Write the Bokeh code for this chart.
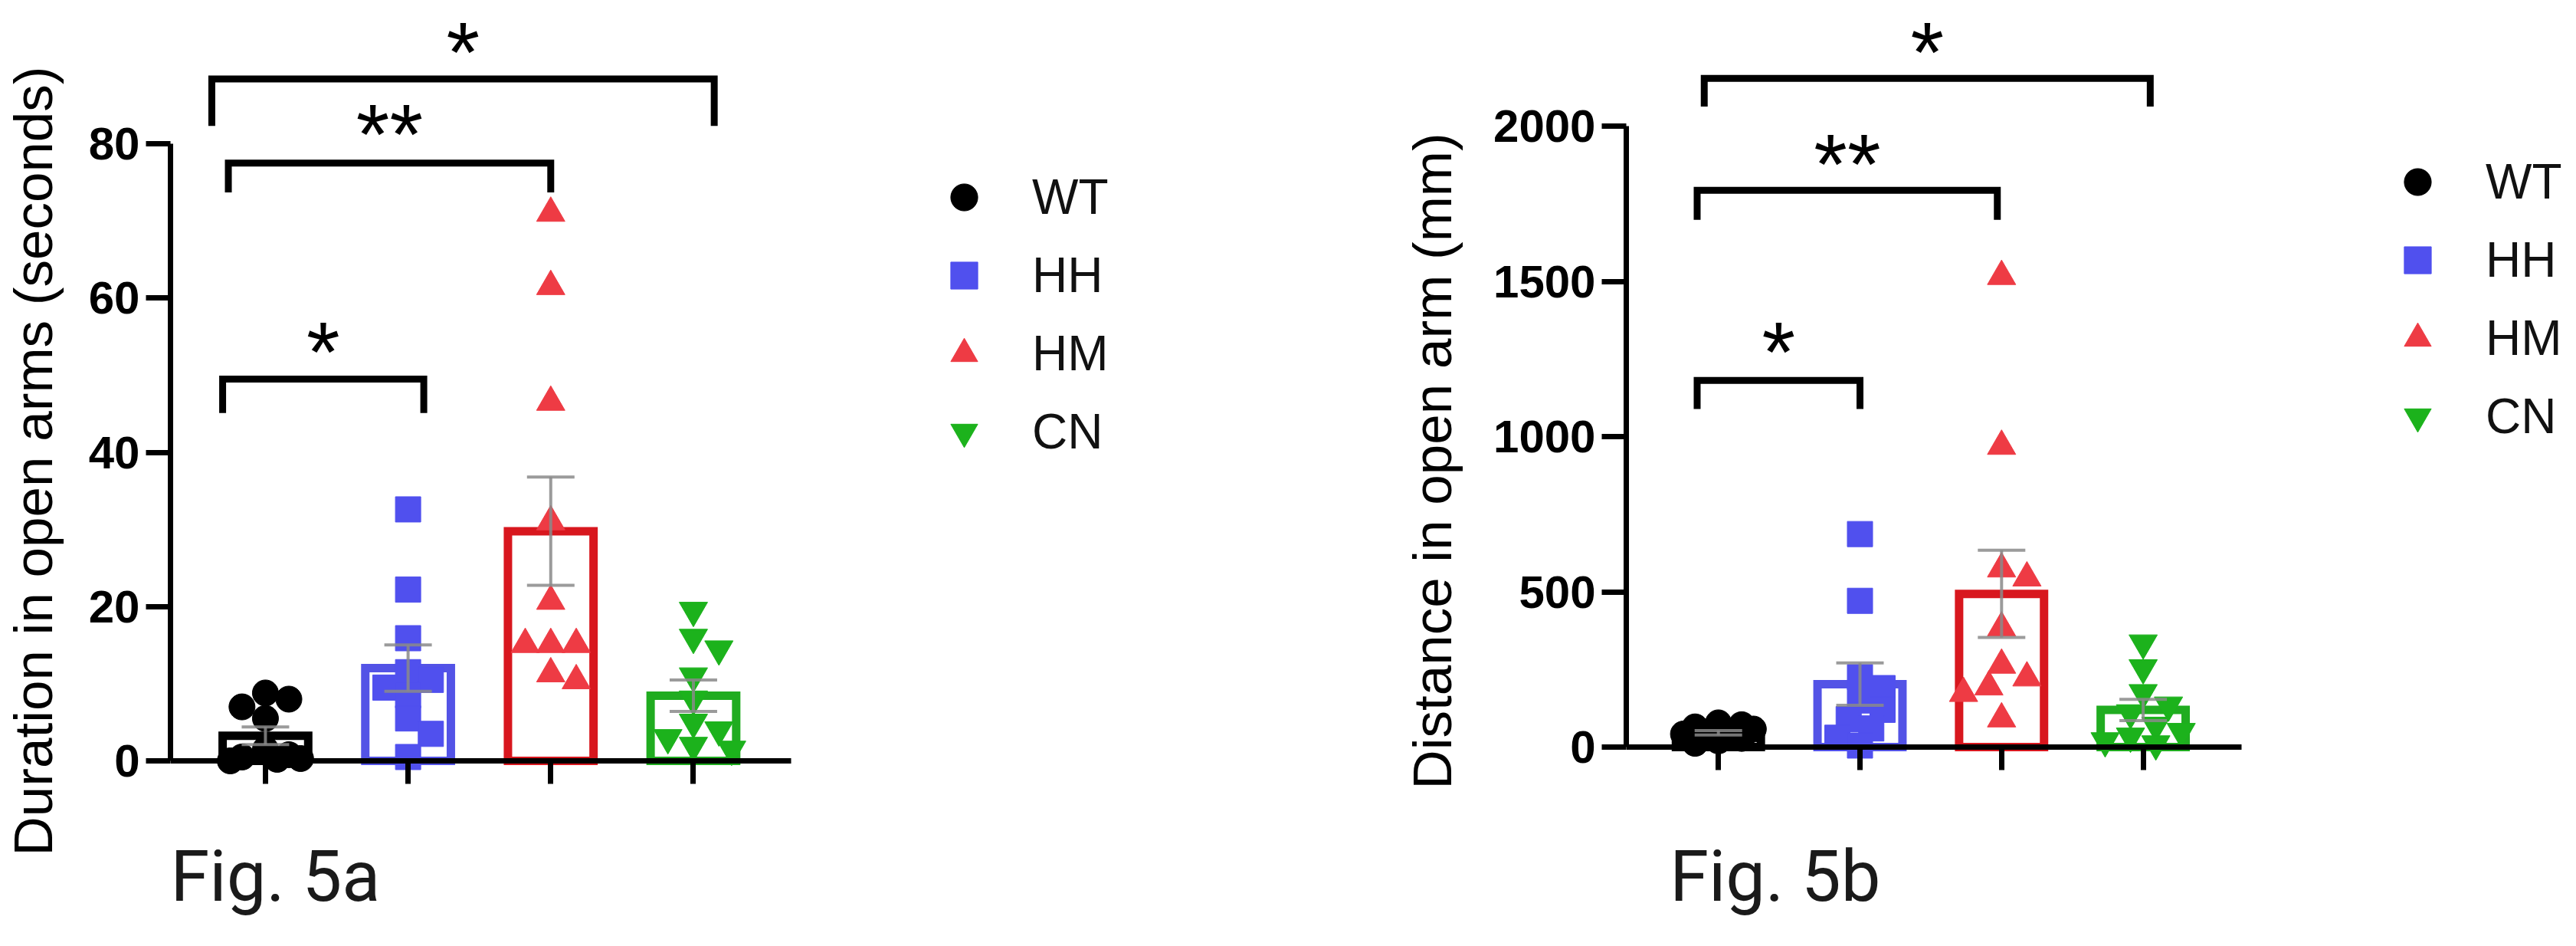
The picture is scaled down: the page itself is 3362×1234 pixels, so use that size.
import math
from bokeh.plotting import figure
from bokeh.models import (Range1d, LinearAxis, FixedTicker, ColumnDataSource,
                          Whisker, TeeHead, Legend, LegendItem)
from bokeh.layouts import row
from bokeh.embed import file_html
from bokeh.resources import INLINE
from bokeh.core.properties import value

# ---------------- data ----------------
groups = ["WT", "HH", "HM", "CN"]

duration_wt = [8.8, 8.0, 7.0, 5.5, 1.5, 0.8, 0.5, 0.3, 0.2, 0.0]
duration_hh = [32.6, 22.2, 15.9, 11.5, 10.5, 9.5, 8.5, 5.5, 3.5, 0.5]
duration_hm = [71.0, 61.5, 46.5, 31.0, 20.7, 15.1, 15.1, 15.1, 11.3, 10.4]
duration_cn = [19.5, 16.0, 14.5, 11.0, 8.0, 5.0, 4.0, 3.0, 2.0, 1.5]

distance_wt = [78, 72, 65, 58, 50, 42, 35, 28, 20, 12]
distance_hh = [686, 471, 225, 190, 150, 120, 90, 60, 30, 5]
distance_hm = [1516, 969, 574, 545, 384, 264, 223, 194, 173, 91]
distance_cn = [335, 255, 175, 135, 110, 70, 50, 35, 20, 10]

duration_ticks = [0, 20, 40, 60, 80]
distance_ticks = [0, 500, 1000, 1500, 2000]

comparisons = [("WT", "HH", "*"), ("WT", "HM", "**"), ("WT", "CN", "*")]

# ---------------- styles / layout ----------------
point_colors = {"WT": "#000000", "HH": "#5050ee", "HM": "#ee3b44", "CN": "#1cb21c"}
bar_colors = {"WT": "#000000", "HH": "#5353e6", "HM": "#d8171e", "CN": "#20ac20"}
markers = {"WT": "circle", "HH": "square", "HM": "triangle", "CN": "inverted_triangle"}
marker_sizes = {"WT": 34, "HH": 33, "HM": 37, "CN": 37}

PAGE_H = 1218
W_A = 1814
W_B = 3346 - W_A

layout_a = dict(
    fig_left=8, width=W_A, mbl=221, frame_left=229, x0=353, dx=186.3, axis_end=1040,
    y0=1000, ytop=195, frame_top=8, frame_bottom=1210, label_standoff=30,
    brackets=[(-0.30, 1.11, 49.5, 45.1, 55.5),
              (-0.26, 2.00, 77.5, 73.7, 83.7),
              (-0.376, 3.146, 88.4, 82.3, 94.3)],
    legend_xy=(992, 595), fig_x=229, fig_baseline=1183,
)
layout_b = dict(
    fig_left=8 + W_A, width=W_B, mbl=308, frame_left=2122, x0=2243, dx=186.0, axis_end=2930,
    y0=982, ytop=172, frame_top=8, frame_bottom=1210, label_standoff=37,
    brackets=[(-0.15, 1.00, 1181, 1089, 1334),
              (-0.15, 1.97, 1793, 1698, 1939),
              (-0.10, 3.05, 2154, 2063, 2300)],
    legend_xy=(989, 615), fig_x=2179, fig_baseline=1183,
)

STAR_SIZE = 112
STAR_YOFF = 25
FIG_SIZE = 92
FIG_YOFF = -32


def swarm_offsets(vals, size_px, kx, ky):
    """deterministic beeswarm-like horizontal spread (in x data units)"""
    n = len(vals)
    order = sorted(range(n), key=lambda i: -vals[i])
    step = 0.45 * size_px
    cands = [0, step, -step, 2 * step, -2 * step, 3 * step, -3 * step]
    min_d = 0.8 * size_px
    placed, offs = [], [0.0] * n
    for i in order:
        y = vals[i] * ky
        chosen, best_c, best_s = None, 0, -1
        for c in cands:
            d = min([math.hypot(c - px, y - py) for px, py in placed], default=1e9)
            if d >= min_d:
                chosen = c
                break
            if d > best_s:
                best_s, best_c = d, c
        if chosen is None:
            chosen = best_c
        offs[i] = chosen / kx
        placed.append((chosen, y))
    return offs


def make_panel(data, ticks, ylabel, fig_label, L):
    k = (L["y0"] - L["ytop"]) / ticks[-1]
    y_start = -(L["frame_bottom"] - L["y0"]) / k
    y_end = ticks[-1] + (L["ytop"] - L["frame_top"]) / k
    x_start = (L["frame_left"] - L["x0"]) / L["dx"]
    x_end = (L["fig_left"] + L["width"] - L["x0"]) / L["dx"]
    x_axis_end = 3 + (L["axis_end"] - (L["x0"] + 3 * L["dx"])) / L["dx"]

    p = figure(width=L["width"], height=PAGE_H,
               x_range=Range1d(x_start, x_end), y_range=Range1d(y_start, y_end),
               x_axis_location=None, toolbar_location=None, output_backend="svg",
               min_border_left=L["mbl"], min_border_right=0,
               min_border_top=L["frame_top"] - 8,
               min_border_bottom=PAGE_H + 8 - L["frame_bottom"])
    p.outline_line_color = None
    p.xgrid.visible = False
    p.ygrid.visible = False
    p.background_fill_color = "white"
    p.border_fill_color = "white"

    xs_idx = list(range(len(groups)))
    means, sems = [], []
    for g in groups:
        v = data[g]
        m = sum(v) / len(v)
        sd = math.sqrt(sum((t - m) ** 2 for t in v) / (len(v) - 1))
        means.append(m)
        sems.append(sd / math.sqrt(len(v)))

    bar_src = ColumnDataSource(dict(x=xs_idx, top=means, color=[bar_colors[g] for g in groups]))
    p.vbar(x="x", top="top", bottom=0, width=0.6, source=bar_src,
           fill_color=None, line_color="color", line_width=11, line_join="miter")

    legend_items = []
    for i, g in enumerate(groups):
        offs = swarm_offsets(data[g], marker_sizes[g], L["dx"], k)
        src = ColumnDataSource(dict(x=[i + o for o in offs], y=data[g]))
        r = p.scatter(x="x", y="y", source=src, marker=markers[g], size=marker_sizes[g],
                      fill_color=point_colors[g], line_color=point_colors[g], line_width=1)
        legend_items.append(LegendItem(label=g, renderers=[r]))

    err_src = ColumnDataSource(dict(x=xs_idx,
                                    upper=[m + s for m, s in zip(means, sems)],
                                    lower=[m - s for m, s in zip(means, sems)]))
    ecol = "#8a8a8a"
    p.add_layout(Whisker(base="x", upper="upper", lower="lower", source=err_src,
                         line_color=ecol, line_alpha=0.85, line_width=4, level="annotation",
                         upper_head=TeeHead(size=62, line_color=ecol, line_alpha=0.85, line_width=4),
                         lower_head=TeeHead(size=62, line_color=ecol, line_alpha=0.85, line_width=4)))

    # significance brackets
    bxs, bys, sx, sy, st = [], [], [], [], []
    for (ga, gb, lab), (xl, xr, yl, yleg, ys) in zip(comparisons, L["brackets"]):
        bxs.append([xl, xl, xr, xr])
        bys.append([yleg, yl, yl, yleg])
        sx.append((xl + xr) / 2)
        sy.append(ys)
        st.append(lab)
    p.multi_line(xs=bxs, ys=bys, line_color="black", line_width=9,
                 line_join="miter", line_cap="butt")
    p.text(x=sx, y=sy, text=st, text_font=value("Liberation Sans"),
           text_font_size=value(f"{STAR_SIZE}px"), text_align="center",
           text_baseline="alphabetic", y_offset=STAR_YOFF, text_color="black")

    # figure caption
    fx = (L["fig_x"] - L["x0"]) / L["dx"]
    fy = -(L["fig_baseline"] - L["y0"]) / k
    p.text(x=[fx], y=[fy], text=[fig_label], text_font=value("Roboto"),
           text_font_size=value(f"{FIG_SIZE}px"), text_align="left",
           text_baseline="alphabetic", y_offset=FIG_YOFF, text_color="#1a1a1a")

    # y axis
    ya = p.yaxis[0]
    ya.ticker = FixedTicker(ticks=ticks)
    ya.bounds = (0, ticks[-1])
    ya.axis_line_width = 7
    ya.major_tick_line_width = 7
    ya.major_tick_out = 32
    ya.major_tick_in = 0
    ya.minor_tick_line_color = None
    ya.major_label_text_font = "Liberation Sans"
    ya.major_label_text_font_style = "bold"
    ya.major_label_text_font_size = "60px"
    ya.major_label_text_color = "black"
    ya.major_label_standoff = 8
    ya.axis_label = ylabel
    ya.axis_label_text_font = "Liberation Sans"
    ya.axis_label_text_font_style = "normal"
    ya.axis_label_text_font_size = "71px"
    ya.axis_label_text_color = "black"
    ya.axis_label_standoff = L["label_standoff"]

    # x axis drawn at y = 0 (ticks pointing down)
    xa = LinearAxis(fixed_location=0, ticker=FixedTicker(ticks=xs_idx),
                    bounds=(x_start, x_axis_end),
                    major_label_overrides={i: "" for i in xs_idx})
    xa.axis_line_width = 7
    xa.major_tick_line_width = 7
    xa.major_tick_out = 0
    xa.major_tick_in = 30
    xa.minor_tick_line_color = None
    xa.major_label_standoff = 0
    xa.major_label_text_font_size = "0px"
    p.add_layout(xa, "above")

    leg = Legend(items=legend_items, location=L["legend_xy"])
    leg.glyph_height = 88
    leg.glyph_width = 88
    leg.label_height = 88
    leg.label_standoff = 45
    leg.spacing = 14
    leg.padding = 0
    leg.margin = 0
    leg.border_line_color = None
    leg.background_fill_alpha = 0
    leg.label_text_font = "Liberation Sans"
    leg.label_text_font_size = "64px"
    leg.label_text_color = "#111111"
    p.add_layout(leg)
    return p


data_a = dict(WT=duration_wt, HH=duration_hh, HM=duration_hm, CN=duration_cn)
data_b = dict(WT=distance_wt, HH=distance_hh, HM=distance_hm, CN=distance_cn)

pa = make_panel(data_a, duration_ticks, "Duration in open arms (seconds)", "Fig. 5a", layout_a)
pb = make_panel(data_b, distance_ticks, "Distance in open arm (mm)", "Fig. 5b", layout_b)

page = row(pa, pb)
open("out.html", "w").write(file_html(page, INLINE, "Fig. 5"))
